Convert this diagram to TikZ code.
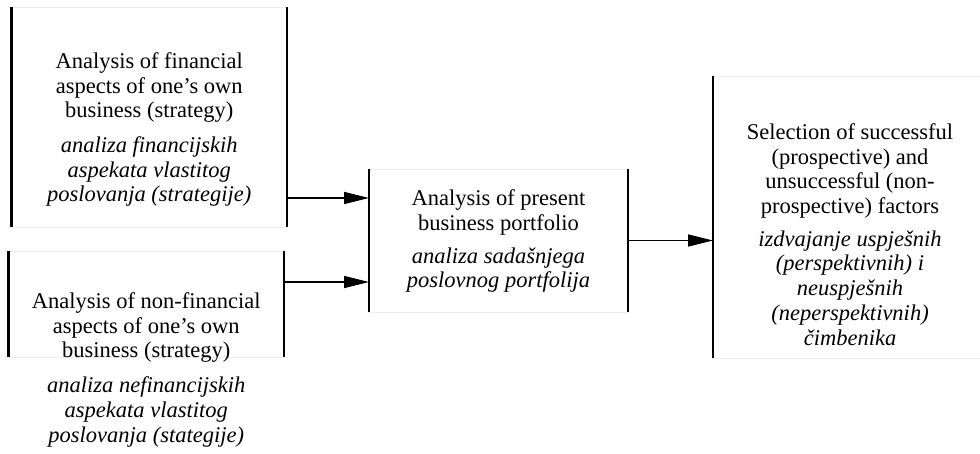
\documentclass[tikz,border=0pt]{standalone}
\usepackage{fontspec}
\setmainfont{Liberation Serif}
\usetikzlibrary{arrows.meta}
\tikzset{
  frame/.style={draw=black!7, line width=0.8pt, inner sep=0pt, outer sep=0pt},
  side/.style={line width=2.6pt, line cap=butt},
  arr/.style={line width=1.5pt, -{Triangle[length=25pt,width=12pt]}},
  txt/.style={align=center, font=\fontsize{22.5}{24.7}\selectfont, inner sep=0pt, anchor=base}
}
\begin{document}
\begin{tikzpicture}[x=1pt,y=-1pt]
\useasboundingbox (0,0) rectangle (980,454);
\clip (0,0) rectangle (980,454);
% boxes
\node[frame, minimum width=275.5pt, minimum height=220pt] (b1) at (149.25,117) {};
\node[frame, minimum width=275.5pt, minimum height=106pt] (b2) at (146.25,304) {};
\node[frame, minimum width=259pt, minimum height=143pt] (mid) at (498.5,240.5) {};
\node[frame, minimum width=274pt, minimum height=282pt] (rt) at (850,217) {};
\foreach \b in {b1,b2,mid}{
  \draw[side] (\b.north west) -- (\b.south west);
  \draw[side] (\b.north east) -- (\b.south east);
}
\draw[side] (rt.north west) -- (rt.south west);
% texts (anchor base = baseline of the last line)
\node[txt] (t1) at (149.25,202) {Analysis of financial\\aspects of one’s own\\business (strategy)\\[10pt]\itshape analiza financijskih\\\itshape aspekata vlastitog\\\itshape poslovanja (strategije)};
\node[txt] (t2) at (146.25,442) {Analysis of non-financial\\aspects of one’s own\\business (strategy)\\[10pt]\itshape analiza nefinancijskih\\\itshape aspekata vlastitog\\\itshape poslovanja (stategije)};
\node[txt] (t3) at (498.5,288) {Analysis of present\\business portfolio\\[8pt]\itshape analiza sadašnjega\\\itshape poslovnog portfolija};
\node[txt] (t4) at (850,345) {Selection of successful\\(prospective) and\\unsuccessful (non-\\prospective) factors\\[8pt]\itshape izdvajanje uspješnih\\\itshape (perspektivnih) i\\\itshape neuspješnih\\\itshape (neperspektivnih)\\\itshape čimbenika};
% connectors
\draw[arr] (b1.east |- 0,198) -- (mid.west |- 0,198);
\draw[arr] (b2.east |- 0,282) -- (mid.west |- 0,282);
\draw[arr] (mid.east) -- (rt.west |- mid.east);
\end{tikzpicture}
\end{document}
